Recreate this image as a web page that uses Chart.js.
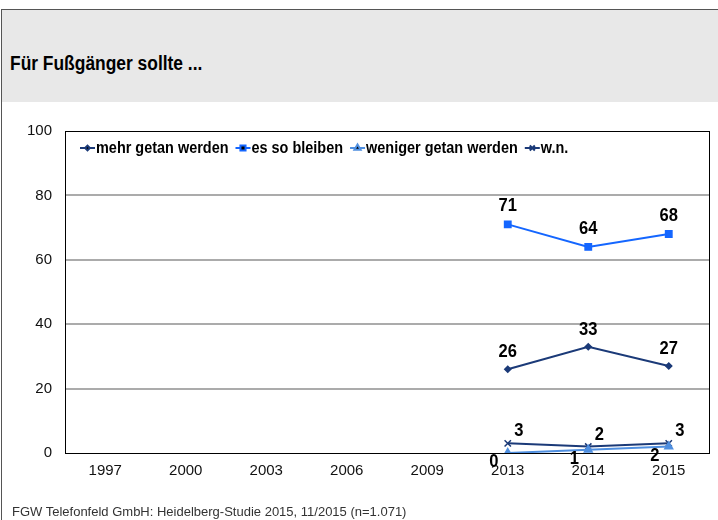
<!DOCTYPE html>
<html>
<head>
<meta charset="utf-8">
<script src="https://cdn.jsdelivr.net/npm/chart.js@4.4.1/dist/chart.umd.min.js"></script>
<style>
  html, body { margin: 0; padding: 0; background: #fff; }
  #wrap { position: relative; width: 718px; height: 520px; overflow: hidden; font-family: "Liberation Sans", Arial, sans-serif; }
  #frame { position: absolute; left: 1px; top: 9px; width: 720px; height: 520px; border-left: 1px solid #555; border-top: 1px solid #555; }
  #header { position: absolute; left: 2px; top: 10px; width: 716px; height: 92px; background: #e8e8e8; }
  #title { position: absolute; left: 10px; top: 52px; font-size: 20px; font-weight: bold; color: #000; transform: scaleX(0.87); transform-origin: left top; white-space: nowrap; }
  #footer { position: absolute; left: 12px; top: 504px; font-size: 13px; color: #333; white-space: nowrap; }
  canvas { position: absolute; left: 0; top: 0; }
</style>
</head>
<body>
<div id="wrap">
  <div id="frame"></div>
  <div id="header"></div>
  <div id="title">Für Fußgänger sollte ...</div>
  <canvas id="chart" width="718" height="520"></canvas>
  <div id="footer">FGW Telefonfeld GmbH: Heidelberg-Studie 2015, 11/2015 (n=1.071)</div>
</div>
<script>
    "use strict";

    // Daten
    var years = ["1997", "2000", "2003", "2006", "2009", "2013", "2014", "2015"];
    var mehrGetan = [null, null, null, null, null, 26, 33, 27];
    var soBleiben = [null, null, null, null, null, 71, 64, 68];
    var wenigerGetan = [null, null, null, null, null, 0, 1, 2];
    var weissNicht = [null, null, null, null, null, 3, 2, 3];
    var yTicks = [0, 20, 40, 60, 80, 100];

    var navy = "#1b3a78";
    var blue = "#1466ff";
    var light = "#4f8fe0";

    // Beschriftungen an den Punkten
    var labelPlugin = {
        id: "pointLabels",
        afterDatasetsDraw: function (chart) {
            var ctx = chart.ctx;
            ctx.save();
            ctx.font = "bold 18px 'Liberation Sans', Arial, sans-serif";
            ctx.fillStyle = "#000";
            ctx.textAlign = "center";
            ctx.textBaseline = "middle";
            chart.data.datasets.forEach(function (ds, i) {
                var meta = chart.getDatasetMeta(i);
                meta.data.forEach(function (pt, j) {
                    var v = ds.data[j];
                    if (v === null) return;
                    ctx.save();
                    ctx.translate(pt.x + ds.lblDx, pt.y + ds.lblDy);
                    ctx.scale(0.92, 1);
                    ctx.fillText(String(v), 0, 0);
                    ctx.restore();
                });
            });
            ctx.restore();
        }
    };

    // Rahmen und Legende im Plotbereich
    var framePlugin = {
        id: "frameLegend",
        afterDraw: function (chart) {
            var ctx = chart.ctx;
            var a = chart.chartArea;
            ctx.save();
            ctx.strokeStyle = "#000";
            ctx.lineWidth = 1;
            ctx.strokeRect(Math.round(a.left) + 0.5, Math.round(a.top) + 0.5,
                Math.round(a.right - a.left), Math.round(a.bottom - a.top));

            ctx.font = "bold 17px 'Liberation Sans', Arial, sans-serif";
            ctx.textBaseline = "middle";
            var sx = 0.85;
            var x = a.left + 15;
            var y = a.top + 17;
            chart.data.datasets.forEach(function (ds) {
                ctx.strokeStyle = ds.borderColor;
                ctx.lineWidth = 2;
                ctx.beginPath();
                ctx.moveTo(x, y);
                ctx.lineTo(x + 15, y);
                ctx.stroke();
                Chart.helpers.drawPoint(ctx, {
                    pointStyle: ds.pointStyle,
                    radius: ds.pointRadius * 0.8,
                    borderWidth: 1.5
                }, x + 7.5, y);
                ctx.fillStyle = "#000";
                ctx.save();
                ctx.translate(x + 16, y);
                ctx.scale(sx, 1);
                ctx.fillText(ds.label, 0, 0);
                ctx.restore();
                x += 16 + ctx.measureText(ds.label).width * sx + 7;
            });
            ctx.restore();
        }
    };

    function series(label, data, color, style, radius, dx, dy) {
        return {
            label: label,
            data: data,
            borderColor: color,
            backgroundColor: color,
            pointBackgroundColor: color,
            pointBorderColor: color,
            borderWidth: 2,
            pointStyle: style,
            pointRadius: radius,
            pointBorderWidth: 1.5,
            spanGaps: false,
            lblDx: dx,
            lblDy: dy
        };
    }

    var ctx1 = document.getElementById("chart").getContext("2d");
    var myChart = new Chart(ctx1, {
        type: "line",
        data: {
            labels: years,
            datasets: [
                series("mehr getan werden", mehrGetan, navy, "rectRot", 3, 0, -17),
                series("es so bleiben", soBleiben, blue, "rect", 4.5, 0, -18),
                series("weniger getan werden", wenigerGetan, light, "triangle", 4.5, -14, 9),
                series("w.n.", weissNicht, navy, "crossRot", 4.5, 11, -12)
            ]
        },
        options: {
            responsive: false,
            animation: false,
            layout: { padding: { left: 0, top: 131, right: 9, bottom: 37 } },
            plugins: {
                legend: { display: false },
                tooltip: { enabled: false }
            },
            scales: {
                x: {
                    offset: true,
                    grid: { display: false, drawTicks: false },
                    border: { display: false },
                    ticks: {
                        color: "#111",
                        font: { family: "'Liberation Sans', Arial, sans-serif", size: 15 },
                        padding: 9,
                        maxRotation: 0
                    },
                    afterFit: function (s) { s.height = 30; }
                },
                y: {
                    min: 0,
                    max: 100,
                    afterBuildTicks: function (s) {
                        s.ticks = yTicks.map(function (v) { return { value: v }; });
                    },
                    grid: {
                        color: function (c) {
                            return (c.tick.value === 0 || c.tick.value === 100) ? "rgba(0,0,0,0)" : "#ababab";
                        },
                        lineWidth: 2,
                        drawTicks: false
                    },
                    border: { display: false },
                    ticks: {
                        color: "#111",
                        font: { family: "'Liberation Sans', Arial, sans-serif", size: 15 },
                        padding: 13
                    },
                    afterFit: function (s) { s.width = 65; }
                }
            }
        },
        plugins: [labelPlugin, framePlugin]
    });
</script>
</body>
</html>
